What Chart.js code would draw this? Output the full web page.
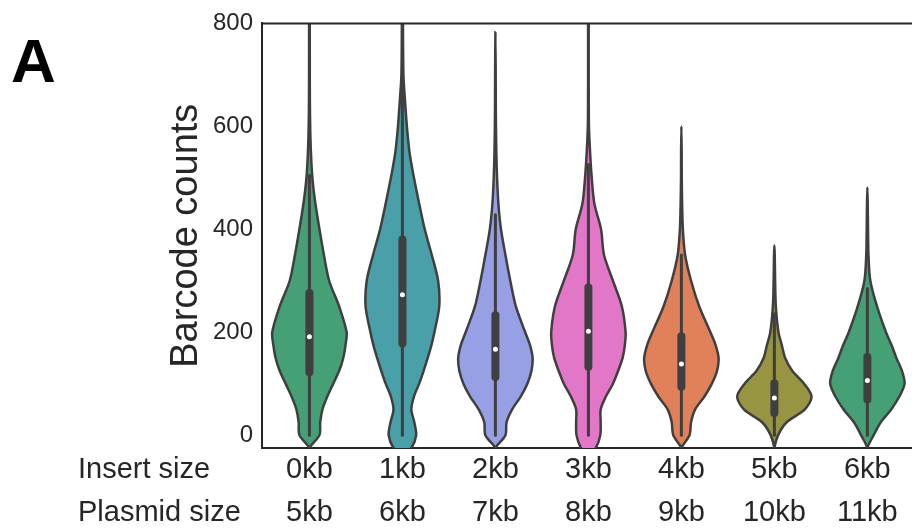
<!DOCTYPE html>
<html>
<head>
<meta charset="utf-8">
<script src="https://cdn.jsdelivr.net/npm/chart.js@4.4.1/dist/chart.umd.min.js"></script>
<style>
  html, body { margin: 0; padding: 0; background: #fff; }
  #wrap { width: 912px; height: 529px; position: relative; }
</style>
</head>
<body>
<div id="wrap"><canvas id="violinChart"></canvas></div>
<script>
const insertSizes = ['0kb', '1kb', '2kb', '3kb', '4kb', '5kb', '6kb'];
const plasmidSizes = ['5kb', '6kb', '7kb', '8kb', '9kb', '10kb', '11kb'];
const yTicks = [0, 200, 400, 600, 800];

// barcode-count levels at which the violin widths were read
const levels = [-40, -25, 0, 25, 50, 75, 100, 125, 150, 175, 200, 250, 300, 350, 400, 450, 500, 550, 600, 650, 700, 850];

// relative violin width at each level (1 = widest), null = above the tail
const width0kb = [0, 0, 0.27, 0.29, 0.35, 0.48, 0.64, 0.8, 0.91, 0.97, 1.0, 0.8, 0.53, 0.39, 0.27, 0.16, 0.08, 0.04, 0.02, 0.012, 0.01, 0.008];
const width1kb = [0, 0.24, 0.37, 0.32, 0.24, 0.31, 0.45, 0.57, 0.68, 0.78, 0.86, 0.99, 0.96, 0.79, 0.6, 0.45, 0.31, 0.19, 0.12, 0.07, 0.027, 0.01];
const width2kb = [0, 0, 0.27, 0.3, 0.45, 0.68, 0.86, 0.97, 1.0, 0.93, 0.8, 0.55, 0.4, 0.27, 0.15, 0.08, 0.045, 0.025, 0.015, 0.01, 0.008, null];
const width3kb = [0, 0.2, 0.32, 0.33, 0.33, 0.47, 0.66, 0.8, 0.92, 0.98, 1.0, 0.9, 0.66, 0.42, 0.34, 0.16, 0.09, 0.045, 0.015, 0.01, 0.008, 0.008];
const width4kb = [0, 0, 0.22, 0.26, 0.37, 0.62, 0.82, 0.96, 1.0, 0.92, 0.78, 0.48, 0.26, 0.1, 0.04, 0.02, 0.01, 0.008, null, null, null, null];
const width5kb = [0, 0, 0.1, 0.33, 0.82, 1.0, 0.8, 0.48, 0.29, 0.2, 0.11, 0.04, 0.02, 0.01, null, null, null, null, null, null, null, null];
const width6kb = [0, 0, 0.17, 0.36, 0.64, 0.86, 1.0, 0.93, 0.78, 0.65, 0.5, 0.26, 0.08, 0.03, 0.018, 0.01, null, null, null, null, null, null];

// top end of each violin's thin tail
const tailTop = [860, 860, 783, 860, 600, 369, 481];

// inner box: quartiles, medians and whiskers
const q1 = [122, 178, 113, 133, 94, 43, 69];
const medians = [191, 273, 167, 202, 138, 72, 106];
const q3 = [276, 380, 233, 287, 192, 101, 152];
const whiskerLow = [0, 0, 0, 0, 0, 0, 0];
const whiskerHigh = [505, 685, 428, 526, 350, 236, 285];

const violinWidths = [width0kb, width1kb, width2kb, width3kb, width4kb, width5kb, width6kb];
const violinColors = ['#45a175', '#49a0a8', '#979fe5', '#e277c7', '#e18159', '#979442', '#45a175'];
const edgeColor = '#3f3f3f';
const axisColor = '#262626';
const HALF_WIDTH = 0.4;

Chart.defaults.font.family = "'Liberation Sans', Arial, sans-serif";
Chart.defaults.color = axisColor;

function violinOutline(i) {
    const w = violinWidths[i];
    const right = [];
    const left = [];
    levels.forEach((lv, k) => {
        if (w[k] === null || lv >= tailTop[i]) return;
        right.push({ x: i + HALF_WIDTH * w[k], y: lv });
        left.push({ x: i - HALF_WIDTH * w[k], y: lv });
    });
    return right.concat([{ x: i, y: tailTop[i] }], left.reverse());
}

const datasets = [];
insertSizes.forEach((_, i) => {
    datasets.push({
        data: violinOutline(i),
        borderColor: edgeColor,
        borderWidth: 2.5,
        backgroundColor: violinColors[i],
        fill: 'shape',
        tension: 0.3,
        pointRadius: 0,
        clip: 0,
        order: 4
    });
    datasets.push({
        data: [{ x: i, y: whiskerLow[i] }, { x: i, y: whiskerHigh[i] }],
        borderColor: edgeColor,
        borderWidth: 3,
        borderCapStyle: 'round',
        pointRadius: 0,
        fill: false,
        order: 3
    });
    datasets.push({
        data: [{ x: i, y: q1[i] }, { x: i, y: q3[i] }],
        borderColor: edgeColor,
        borderWidth: 8,
        borderCapStyle: 'round',
        pointRadius: 0,
        fill: false,
        order: 2
    });
});
datasets.push({
    data: medians.map((m, i) => ({ x: i, y: m })),
    showLine: false,
    pointRadius: 2.5,
    pointBackgroundColor: '#ffffff',
    pointBorderWidth: 0,
    order: 1
});

const X_LINE = 43;

// spine on top plus the free text around the axes
const extrasPlugin = {
    id: 'extras',
    afterDatasetsDraw(chart) {
        const { ctx, chartArea } = chart;
        ctx.save();
        ctx.strokeStyle = axisColor;
        ctx.lineWidth = 2;
        ctx.beginPath();
        ctx.moveTo(chartArea.left - 1, chartArea.top);
        ctx.lineTo(chart.width, chartArea.top);
        ctx.stroke();
        ctx.restore();
    },
    afterDraw(chart) {
        const { ctx } = chart;
        const xScale = chart.scales.x;
        ctx.save();
        ctx.fillStyle = '#000';
        ctx.font = "bold 62px 'Liberation Sans', Arial, sans-serif";
        ctx.textBaseline = 'alphabetic';
        ctx.textAlign = 'left';
        ctx.fillText('A', 11, 82);

        ctx.fillStyle = axisColor;
        ctx.font = "29px 'Liberation Sans', Arial, sans-serif";
        ctx.textBaseline = 'middle';
        const y0 = xScale.top + X_LINE / 2;
        ctx.fillText('Insert size', 78, y0);
        ctx.fillText('Plasmid size', 78, y0 + X_LINE);
        ctx.restore();
    }
};

new Chart(document.getElementById('violinChart'), {
    type: 'line',
    data: { datasets },
    options: {
        responsive: true,
        maintainAspectRatio: false,
        animation: false,
        layout: { autoPadding: false, padding: { top: 19, left: 164, right: 0, bottom: 0 } },
        plugins: {
            legend: { display: false },
            tooltip: { enabled: false }
        },
        scales: {
            x: {
                type: 'linear',
                min: -0.51,
                max: 6.48,
                afterFit: axis => {
                    axis.height = 81;
                    axis.paddingLeft = 0;
                    axis.paddingRight = 0;
                },
                afterBuildTicks: axis => { axis.ticks = insertSizes.map((_, i) => ({ value: i })); },
                grid: { display: false, drawTicks: false },
                border: { display: true, color: axisColor, width: 2 },
                ticks: {
                    padding: 0,
                    maxRotation: 0,
                    autoSkip: false,
                    font: { size: 29, lineHeight: X_LINE / 29 },
                    color: axisColor,
                    callback: (v) => [insertSizes[v], plasmidSizes[v]]
                }
            },
            y: {
                type: 'linear',
                min: -25,
                max: 800,
                afterFit: axis => { axis.width = 262 - 164; },
                afterBuildTicks: axis => { axis.ticks = yTicks.map(v => ({ value: v })); },
                grid: { display: false, drawTicks: false },
                border: { display: true, color: axisColor, width: 2 },
                ticks: {
                    padding: 9,
                    font: { size: 24 },
                    color: axisColor
                },
                title: {
                    display: true,
                    text: 'Barcode counts',
                    font: { size: 38, lineHeight: 1.2 },
                    color: axisColor,
                    padding: { top: 0, bottom: 0 }
                }
            }
        }
    },
    plugins: [extrasPlugin]
});
</script>
</body>
</html>
